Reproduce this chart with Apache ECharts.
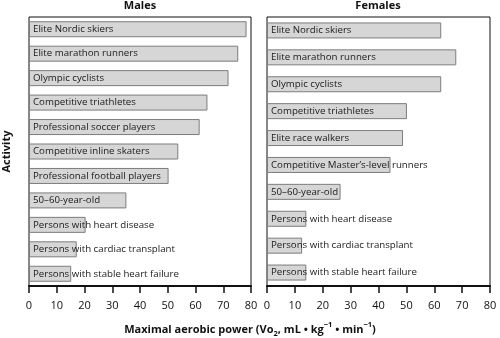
<!DOCTYPE html>
<html><head><meta charset="utf-8">
<script src="https://cdn.jsdelivr.net/npm/echarts@6/dist/echarts.min.js"></script>
<style>html,body{margin:0;padding:0;background:#fff}#c{width:500px;height:338px}</style>
</head><body><div id="c"></div>
<script>
const maleCategories = ["Elite Nordic skiers","Elite marathon runners","Olympic cyclists","Competitive triathletes","Professional soccer players","Competitive inline skaters","Professional football players","50–60-year-old","Persons with heart disease","Persons with cardiac transplant","Persons with stable heart failure"];
const maleValues = [78.4,75.4,71.9,64.3,61.5,53.8,50.3,35.1,20.4,17.2,15.2];
const femaleCategories = ["Elite Nordic skiers","Elite marathon runners","Olympic cyclists","Competitive triathletes","Elite race walkers","Competitive Master’s-level runners","50–60-year-old","Persons with heart disease","Persons with cardiac transplant","Persons with stable heart failure"];
const femaleValues = [62.5,67.9,62.5,50.2,48.8,44.3,26.4,14.1,12.6,14.1];
const xTicks = [0,10,20,30,40,50,60,70,80];

const FONT = '"Open Sans", "Noto Sans", sans-serif';
const chart = echarts.init(document.getElementById('c'), null, {renderer:'canvas'});
function xAxisCfg(idx){
  return {type:'value', gridIndex:idx, min:0, max:80, interval:10,
    axisLine:{show:true, lineStyle:{color:'#111', width:2}},
    axisTick:{show:true, length:7, lineStyle:{color:'#111', width:1.5}},
    axisLabel:{color:'#111', fontSize:11, fontFamily:FONT, margin:14,
      formatter:v=> xTicks.indexOf(v)>=0 ? String(v) : ''},
    splitLine:{show:false}};
}
function yAxisCfg(idx, cats, name){
  return {type:'category', gridIndex:idx, data:cats, inverse:true,
    axisLine:{show:false}, axisTick:{show:false}, axisLabel:{show:false},
    name:name, nameLocation:'middle', nameGap:17, nameRotate:90,
    nameTextStyle:{fontWeight:'bold', fontSize:11, color:'#111', fontFamily:FONT}};
}
function barSeries(idx, cats, vals){
  return {type:'bar', xAxisIndex:idx, yAxisIndex:idx, data:vals, barWidth:16,
    itemStyle:{color:'#d6d6d6', borderColor:'#7d7d7d', borderWidth:1},
    label:{show:true, position:'insideLeft', distance:4, color:'#1a1a1a', fontSize:9.7, fontFamily:FONT,
      formatter:p=>cats[p.dataIndex]},
    silent:true, animation:false};
}
chart.setOption({
  animation:false,
  title:[
    {text:'Males', left:140, top:0, padding:0, textAlign:'center', textStyle:{fontSize:11, fontWeight:'bold', color:'#111', fontFamily:FONT}},
    {text:'Females', left:378, top:0, padding:0, textAlign:'center', textStyle:{fontSize:11, fontWeight:'bold', color:'#111', fontFamily:FONT}},
    {text:'{m|Maximal aerobic power (Vo}{sub|2}{m|, mL • kg}{sup|−1}{m| • min}{sup|−1}{m|)}', left:250, top:321, padding:0, textAlign:'center',
      textStyle:{rich:{
        m:{fontSize:11, fontWeight:'bold', color:'#111', fontFamily:FONT, lineHeight:17, verticalAlign:'middle'},
        sub:{fontSize:7.5, fontWeight:'bold', color:'#111', fontFamily:FONT, lineHeight:17, verticalAlign:'bottom'},
        sup:{fontSize:7.5, fontWeight:'bold', color:'#111', fontFamily:FONT, lineHeight:17, verticalAlign:'top'}
      }}}
  ],
  grid:[
    {left:28, right:249, top:17, bottom:52, show:true, borderColor:'#111', borderWidth:1, backgroundColor:'transparent'},
    {left:267, right:10, top:17, bottom:52, show:true, borderColor:'#111', borderWidth:1, backgroundColor:'transparent'}
  ],
  xAxis:[xAxisCfg(0), xAxisCfg(1)],
  yAxis:[yAxisCfg(0, maleCategories, 'Activity'), yAxisCfg(1, femaleCategories, '')],
  series:[barSeries(0, maleCategories, maleValues), barSeries(1, femaleCategories, femaleValues)]
});
</script></body></html>
